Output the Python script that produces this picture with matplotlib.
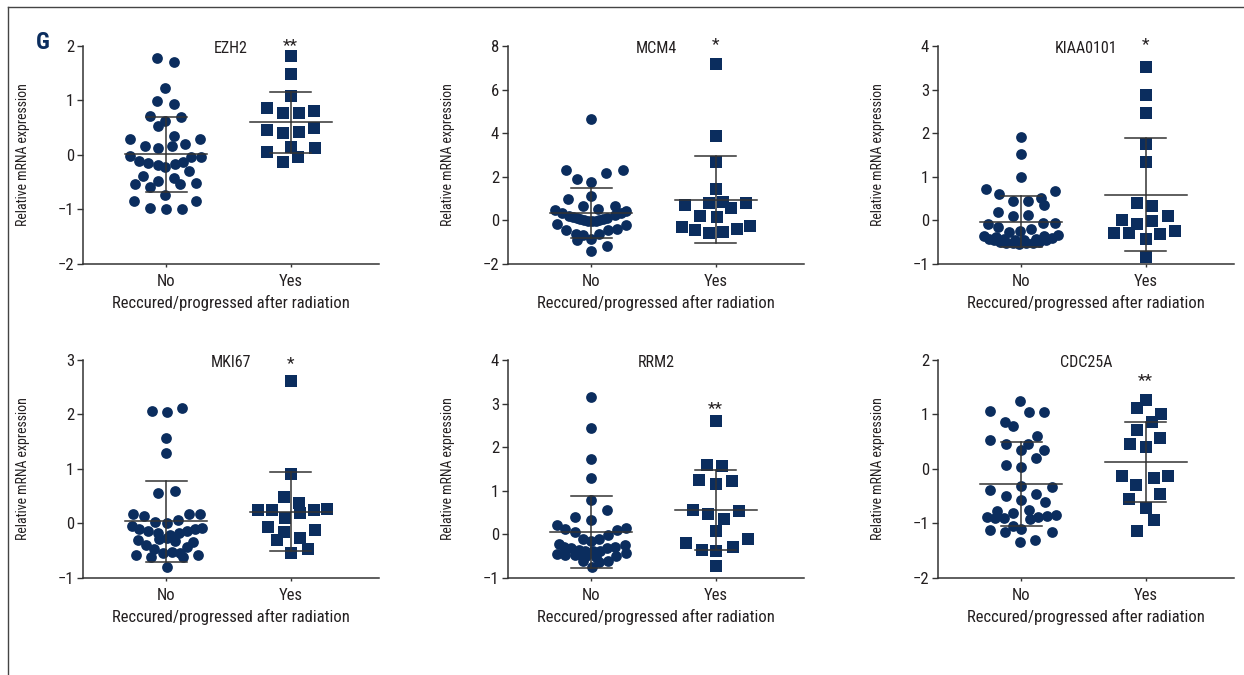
import matplotlib
matplotlib.use("Agg")
import matplotlib.pyplot as plt
from matplotlib import font_manager
from matplotlib.lines import Line2D

names = set(f.name for f in font_manager.fontManager.ttflist)
narrow = [n for n in ['Liberation Sans Narrow', 'DejaVu Sans Condensed', 'Roboto Condensed',
                      'Open Sans Condensed', 'Noto Sans Condensed'] if n in names]
plt.rcParams['font.family'] = narrow + ['DejaVu Sans']
if not narrow:
    plt.rcParams['font.stretch'] = 'condensed'

genes = ["EZH2", "MCM4", "KIAA0101", "MKI67", "RRM2", "CDC25A"]
groups = ["No", "Yes"]
stars = ["**", "*", "*", "*", "**", "**"]
star_y = [2.0, 8.05, 4.03, 2.94, 2.88, 1.62]
y_limits = [(-2, 2), (-2, 8), (-1, 4), (-1, 3), (-1, 4), (-2, 2)]
y_steps = [1, 2, 1, 1, 1, 1]

# mean and SD, (No, Yes)
means = [(0.01, 0.60), (0.33, 0.95), (-0.035, 0.585), (0.04, 0.215), (0.055, 0.565), (-0.27, 0.13)]
sds = [(0.685, 0.555), (1.15, 2.0), (0.585, 1.295), (0.74, 0.725), (0.825, 0.915), (0.77, 0.74)]

# each point: value and its sideways offset in the scatter
ezh2_no = [1.78, 1.70, 1.23, 0.99, 0.94, 0.72, 0.70, 0.62, 0.53, 0.35, 0.30, 0.16, 0.13, 0.16, 0.20,
           0.30, -0.02, -0.11, -0.14, -0.19, -0.22, -0.16, -0.12, -0.03, -0.04, -0.30, -0.38, -0.42,
           -0.48, -0.53, -0.58, -0.54, -0.52, -0.73, -0.85, -0.84, -0.98, -1.00, -0.99]
ezh2_no_x = [-0.072, 0.062, -0.008, -0.072, 0.062, -0.131, 0.121, -0.008, -0.067, 0.067, -0.287, -0.172,
             -0.064, 0.048, 0.155, 0.271, -0.292, -0.217, -0.142, -0.067, -0.005, 0.070, 0.137, 0.204,
             0.282, 0.182, -0.188, 0.062, -0.067, -0.252, -0.131, 0.115, 0.241, -0.008, -0.260, 0.241,
             -0.126, 0, 0.129]
ezh2_yes = [1.82, 1.49, 1.09, 0.87, 0.77, 0.77, 0.81, 0.46, 0.41, 0.42, 0.49, 0.14, 0.05, 0.12, -0.03, -0.13]
ezh2_yes_x = [0, 0, 0, -0.188, -0.062, 0.067, 0.188, -0.188, -0.062, 0.067, 0.188, 0, -0.188, 0.196, 0.059, -0.062]

mcm4_no = [4.67, 2.29, 1.90, 1.78, 2.19, 2.29, 1.14, 0.99, 0.64, 0.53, 0.67, 0.49, 0.33, 0.21, 0.11,
           0.03, -0.02, 0.03, 0.11, 0.23, 0.33, 0.41, -0.17, -0.46, -0.61, -0.65, -0.84, -0.61, -0.46,
           -0.38, -0.20, -0.91, -1.16, -1.40, 0.15, -0.03, 0.06, 0.06, -0.03]
mcm4_no_x = [0, -0.198, -0.115, 0, 0.123, 0.252, 0, -0.182, -0.067, 0.059, 0.193, -0.287, -0.233, -0.174,
             -0.115, -0.054, 0.008, 0.067, 0.126, 0.188, 0.241, 0.276, -0.273, -0.201, -0.121, -0.067, 0,
             0.067, 0.134, 0.209, 0.282, -0.115, 0.126, 0, -0.147, 0.040, 0.094, -0.086, -0.027]
mcm4_yes = [7.17, 3.88, 2.66, 1.43, 0.71, 0.79, 0.85, 0.56, 0.79, 0.21, 0.15, -0.30, -0.46, -0.58, -0.52, -0.40, -0.27]
mcm4_yes_x = [0, 0, 0, 0, -0.247, -0.054, 0.059, 0.126, 0.247, -0.126, 0.011, -0.268, -0.164, -0.054,
              0.059, 0.171, 0.279]

kiaa_no = [1.91, 1.52, 1.00, 0.71, 0.61, 0.52, 0.68, 0.45, 0.45, 0.36, 0.20, 0.11, 0.13, -0.08, -0.16,
           -0.07, -0.05, -0.27, -0.24, -0.20, -0.36, -0.33, -0.43, -0.46, -0.49, -0.52, -0.53, -0.54,
           -0.53, -0.52, -0.49, -0.44, -0.40, -0.43, -0.44, -0.45, -0.42, -0.38, -0.36]
kiaa_no_x = [0, 0, 0, -0.282, -0.174, 0.161, 0.271, -0.062, 0.056, 0.182, -0.185, -0.067, 0.056, -0.268,
             -0.185, 0.177, 0.271, -0.094, -0.008, 0.080, -0.295, 0.295, -0.255, -0.214, -0.169, -0.121,
             -0.067, -0.013, 0.040, 0.094, 0.147, 0.201, 0.249, -0.134, -0.046, 0.027, 0.121, -0.2, 0.188]
kiaa_yes = [3.51, 2.88, 2.47, 1.75, 1.33, 0.40, 0.33, 0.00, -0.08, -0.02, 0.09, -0.28, -0.28, -0.31, -0.25, -0.43, -0.84]
kiaa_yes_x = [0, 0, 0, 0, 0, -0.067, 0.054, -0.188, -0.067, 0.054, 0.182, -0.252, -0.134, 0.118, 0.239, 0, 0]

mki67_no = [2.07, 2.04, 2.12, 1.57, 1.29, 0.56, 0.59, 0.17, 0.14, 0.18, 0.18, 0.02, 0.00, 0.06, -0.04,
            -0.11, -0.13, -0.17, -0.21, -0.17, -0.14, -0.11, -0.09, -0.31, -0.40, -0.29, -0.27, -0.32,
            -0.43, -0.34, -0.57, -0.46, -0.62, -0.54, -0.53, -0.54, -0.61, -0.58, -0.79]
mki67_no_x = [-0.115, 0.005, 0.126, 0, 0, -0.062, 0.070, -0.268, -0.177, 0.188, 0.273, -0.088, 0.005, 0.097,
              -0.276, -0.214, -0.142, -0.062, 0.032, 0.107, 0.172, 0.233, 0.292, -0.225, -0.161, -0.059,
              0.011, 0.072, 0.172, 0.220, -0.241, -0.097, -0.121, -0.027, 0.046, 0.113, 0.134, 0.255, 0.005]
mki67_yes = [2.62, 0.90, 0.48, 0.38, 0.24, 0.24, 0.20, 0.24, 0.27, 0.10, -0.07, -0.15, -0.12, -0.31, -0.26, -0.46, -0.54]
mki67_yes_x = [0, 0, -0.056, 0.067, -0.261, -0.153, 0.075, 0.188, 0.290, -0.043, -0.185, -0.056, 0.196,
               -0.110, 0.075, 0.140, 0]

rrm2_no = [3.15, 2.45, 1.72, 1.29, 0.78, 0.40, 0.56, 0.34, 0.22, 0.12, 0.05, -0.11, -0.14, -0.11, -0.02,
           0.09, 0.15, -0.23, -0.29, -0.31, -0.35, -0.38, -0.38, -0.37, -0.32, -0.29, -0.24, -0.44, -0.48,
           -0.48, -0.60, -0.75, -0.63, -0.60, -0.50, -0.42, -0.50, -0.52, -0.44]
rrm2_no_x = [0, 0, 0, 0, 0, -0.126, 0.129, 0, -0.276, -0.206, -0.131, -0.067, 0, 0.062, 0.134, 0.206,
             0.276, -0.260, -0.214, -0.161, -0.099, -0.046, 0.013, 0.072, 0.126, 0.188, 0.268, -0.276,
             -0.206, -0.126, -0.062, 0.008, 0.067, 0.134, 0.201, 0.276, -0.04, 0.04, -0.107]
rrm2_yes = [2.61, 1.60, 1.57, 1.25, 1.22, 1.15, 0.56, 0.46, 0.36, 0.53, 0.08, -0.20, -0.10, -0.35, -0.37, -0.30, -0.73]
rrm2_yes_x = [0, -0.067, 0.051, -0.131, 0.131, 0, -0.182, -0.062, 0.070, 0.188, 0, -0.236, 0.260, -0.110,
              0, 0.137, 0]

cdc25a_no = [1.24, 1.07, 1.04, 1.04, 0.86, 0.79, 0.54, 0.60, 0.45, 0.46, 0.34, 0.35, 0.21, 0.08, 0.04,
             -0.38, -0.31, -0.33, -0.49, -0.56, -0.45, -0.60, -0.88, -0.77, -0.89, -0.80, -0.76, -0.91,
             -0.88, -0.86, -0.84, -0.89, -1.04, -1.10, -1.12, -1.16, -1.15, -1.34, -1.31]
cdc25a_no_x = [-0.008, -0.249, 0.067, 0.188, -0.129, -0.062, -0.249, 0.126, -0.121, 0.056, 0, 0.182, 0.121,
               -0.121, 0, -0.249, 0, 0.247, -0.121, 0, 0.121, 0.193, -0.276, -0.196, -0.137, -0.062, 0.062,
               0.072, 0.139, 0.206, 0.279, -0.206, -0.067, 0, -0.249, -0.126, 0.252, -0.008, 0.115]
cdc25a_yes = [1.27, 1.12, 1.01, 0.87, 0.72, 0.57, 0.46, 0.41, -0.13, -0.17, -0.12, -0.30, -0.45, -0.55, -0.71, -0.94, -1.14]
cdc25a_yes_x = [0, -0.067, 0.126, 0.054, -0.067, 0.112, -0.122, 0, -0.191, 0.064, 0.182, -0.075, 0.118,
                -0.131, 0, 0.064, -0.067]

no_values = [ezh2_no, mcm4_no, kiaa_no, mki67_no, rrm2_no, cdc25a_no]
no_offsets = [ezh2_no_x, mcm4_no_x, kiaa_no_x, mki67_no_x, rrm2_no_x, cdc25a_no_x]
yes_values = [ezh2_yes, mcm4_yes, kiaa_yes, mki67_yes, rrm2_yes, cdc25a_yes]
yes_offsets = [ezh2_yes_x, mcm4_yes_x, kiaa_yes_x, mki67_yes_x, rrm2_yes_x, cdc25a_yes_x]

NAVY = "#0b2d5e"
TEXT = "#231f20"
BAR = "#333333"


def draw_panel(ax, i):
    ax.scatter([0 + x for x in no_offsets[i]], no_values[i], marker="o", s=60, color=NAVY,
               linewidths=0, zorder=2)
    ax.scatter([1 + x for x in yes_offsets[i]], yes_values[i], marker="s", s=64, color=NAVY,
               linewidths=0, zorder=2)
    for g in range(2):
        m = means[i][g]
        sd = sds[i][g]
        ax.plot([g - 0.33, g + 0.33], [m, m], color=BAR, lw=1.1, zorder=3)
        ax.plot([g, g], [m - sd, m + sd], color=BAR, lw=1.1, zorder=3)
        ax.plot([g - 0.165, g + 0.165], [m + sd, m + sd], color=BAR, lw=1.1, zorder=3)
        ax.plot([g - 0.165, g + 0.165], [m - sd, m - sd], color=BAR, lw=1.1, zorder=3)

    lo, hi = y_limits[i]
    ax.set_ylim(lo, hi)
    ax.set_xlim(-0.667, 1.71)
    ax.set_yticks(range(lo, hi + 1, y_steps[i]))
    ax.set_yticklabels([str(t).replace("-", "\u2212") for t in range(lo, hi + 1, y_steps[i])])
    ax.set_xticks([0, 1])
    ax.set_xticklabels(groups)
    for side in ["top", "right"]:
        ax.spines[side].set_visible(False)
    for side in ["left", "bottom"]:
        ax.spines[side].set_color(BAR)
        ax.spines[side].set_linewidth(1.1)
    ax.tick_params(axis="y", length=4.5, width=1, pad=2, colors=BAR, labelsize=12, labelcolor=TEXT)
    ax.tick_params(axis="x", length=2.5, width=1, pad=5, colors=BAR, labelsize=12, labelcolor=TEXT)
    ax.set_ylabel("Relative mRNA expression", fontsize=10, color=TEXT)
    ax.yaxis.set_label_coords(-0.179, 0.5)
    ax.set_xlabel("Reccured/progressed after radiation", fontsize=12, color=TEXT, labelpad=4)
    ax.text(0.5, 0.99, genes[i], transform=ax.transAxes, ha="center", va="center",
            fontsize=11.5, color=TEXT)
    ax.text(1, star_y[i], stars[i], ha="center", va="center", fontsize=12.5, color=TEXT)


fig = plt.figure(figsize=(12.44, 6.75), dpi=100)
lefts = [0.0667, 0.4084, 0.754]
bottoms = [0.6089, 0.1437]
for i in range(6):
    ax = fig.add_axes([lefts[i % 3], bottoms[i // 3], 0.238, 0.323])
    draw_panel(ax, i)

fig.text(0.0345, 0.937, "G", fontsize=17, fontweight="bold", color=NAVY, ha="center", va="center")
fig.add_artist(Line2D([8 / 1244, 8 / 1244], [0, 1 - 7 / 675], color="#444444", lw=1))
fig.add_artist(Line2D([8 / 1244, 1], [1 - 7 / 675, 1 - 7 / 675], color="#444444", lw=1))

fig.savefig("out.png", dpi=100)
